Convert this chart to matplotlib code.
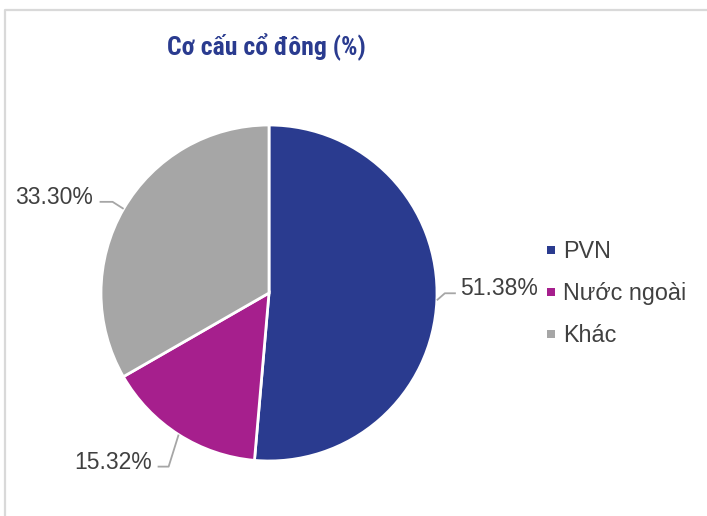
import numpy as np
import matplotlib
matplotlib.use("Agg")
import matplotlib.pyplot as plt
from matplotlib import font_manager as fm
from matplotlib.lines import Line2D
from matplotlib.patches import Rectangle

# ---- data ----
categories = ["PVN", "Nước ngoài", "Khác"]
values = [51.38, 15.32, 33.30]
value_labels = ["51.38%", "15.32%", "33.30%"]
colors = ["#2A3B8F", "#A61F8D", "#A6A6A6"]
title = "Cơ cấu cổ đông (%)"

W, H = 707, 516
DPI = 100
fig = plt.figure(figsize=(W / DPI, H / DPI), dpi=DPI)
fig.patch.set_facecolor("white")

def fx(px):
    return px / W

def fy(py):
    return 1 - py / H

# outer frame (top and left edges visible)
fig.add_artist(Line2D([fx(4.5), fx(4.5), 1.0], [0.0, fy(9.5), fy(9.5)],
                      transform=fig.transFigure, color="#D9D9D9", lw=1.6))

# pie axes: center (269,293) px, radius 168 px
cx, cy, R = 269, 293, 168
ax = fig.add_axes([fx(cx - R), fy(cy + R), (2 * R) / W, (2 * R) / H])
wedges, _ = ax.pie(values, colors=colors, startangle=90, counterclock=False,
                   radius=1.0, wedgeprops=dict(edgecolor="white", linewidth=2.0))
ax.set_xlim(-1, 1)
ax.set_ylim(-1, 1)
ax.set_aspect("equal")
ax.axis("off")

# leader layout in pixel offsets relative to the wedge edge point
# (elbow dx, elbow dy, end dx, text x offset, ha)
label_layout = [
    (8, -7, 19, 23, "left"),      # PVN
    (-10, 32, -21, -27, "right"),  # Nuoc ngoai
    (-11, -7, -24, -31, "right"),  # Khac
]
s = 1.0 / R  # px -> data units
cum = 0.0
total = sum(values)
for i, v in enumerate(values):
    mid = cum + v / 2
    cum += v
    ang = np.deg2rad(90 - 360 * mid / total)
    ex, ey = np.cos(ang), np.sin(ang)
    edx, edy, endx, tx, ha = label_layout[i]
    elx, ely = ex + edx * s, ey - edy * s
    endxx = ex + endx * s
    ax.plot([ex, elx, endxx], [ey, ely, ely], color="#A6A6A6", lw=1.3,
            clip_on=False, solid_capstyle="butt")
    ax.text(ex + tx * s, ely - 2 * s,
            value_labels[i], ha=ha, va="baseline", fontsize=16.5,
            color="#404040", family=["Liberation Sans", "DejaVu Sans"],
            clip_on=False)

# title: prefer a narrow sans if installed
installed = {f.name for f in fm.fontManager.ttflist}
title_family, title_size = ["Liberation Sans", "DejaVu Sans"], 16.0
for cand in ["Liberation Sans Narrow", "Arial Narrow", "Roboto Condensed"]:
    if cand in installed:
        title_family, title_size = [cand, "Liberation Sans", "DejaVu Sans"], 18.5
        break
fig.text(fx(266.5), fy(55), title, ha="center", va="baseline",
         fontsize=title_size, fontweight="bold", color="#2A3B8F",
         family=title_family)

# legend (manual)
leg_x_text = 563
leg_baselines = [258, 300, 342]
for i, cat in enumerate(categories):
    b = leg_baselines[i]
    fig.add_artist(Rectangle((fx(547), fy(b - 4)), 8 / W, 8 / H,
                             transform=fig.transFigure, facecolor=colors[i],
                             edgecolor="none"))
    fig.text(fx(leg_x_text), fy(b), cat, ha="left", va="baseline",
             fontsize=16.8, color="#404040",
             family=["Liberation Sans", "DejaVu Sans"])

fig.savefig("out.png", dpi=DPI)
